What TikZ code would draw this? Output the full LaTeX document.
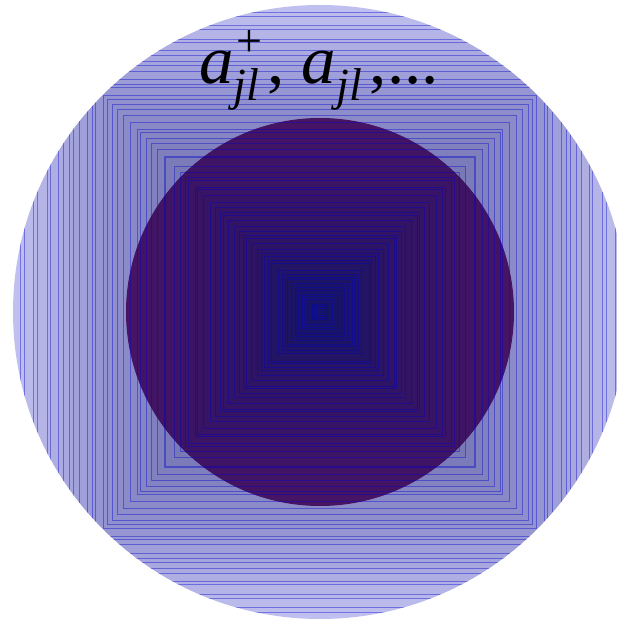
\documentclass[tikz,border=0pt]{standalone}
\usepackage{fontspec}
\setmainfont{Liberation Serif}
\definecolor{fockbg}{RGB}{192,192,240}
\definecolor{fockshade}{RGB}{20,20,110}
\definecolor{vacuumfill}{RGB}{98,25,100}
\newcommand{\opsub}[1]{\raisebox{-17pt}{\fontsize{46}{50}\selectfont #1}}
\newcommand{\opsup}[1]{\rlap{\hspace{3pt}\fontsize{46}{50}\selectfont\upshape\raisebox{27pt}{#1}}}
\tikzset{
  fockdisc/.style={
    fill=fockbg
  },
  vacuumdisc/.style={
    fill=vacuumfill
  },
  levelsquare/.style={
    draw=blue!80!black,
    draw opacity=0.4,
    line width=0.8pt,
    fill=fockshade
  },
  oplabel/.style={
    anchor=base,
    inner sep=0pt,
    font=\fontsize{69}{80}\selectfont
  }
}

\begin{document}
\begin{tikzpicture}[x=1pt,y=1pt]
\useasboundingbox (0,0) rectangle (617,619);
\coordinate (centre) at (320,307);

\fill[fockdisc] (centre) circle (307);
\fill[vacuumdisc] (centre) circle (194);

% nested levels, clipped to the outer disc
\begin{scope}
  \clip (centre) circle (307);
  \pgfmathsetseed{11}
  \foreach \k in {62,...,1}{
    \pgfmathsetmacro{\hs}{3+299*pow((\k-1+rnd)/62,1.25)}
    \pgfmathsetmacro{\op}{0.017+0.15*pow(max(0,1-\hs/110),2)}
    \draw[levelsquare, fill opacity=\op] (320-\hs,307-\hs) rectangle (320+\hs,307+\hs);
  }
\end{scope}

\node[oplabel] (ops) at (319,535) {\itshape a\opsup{+}\opsub{jl}\upshape\hspace{8pt}, \itshape a\opsub{jl}\upshape\hspace{8pt},...};
\end{tikzpicture}
\end{document}
